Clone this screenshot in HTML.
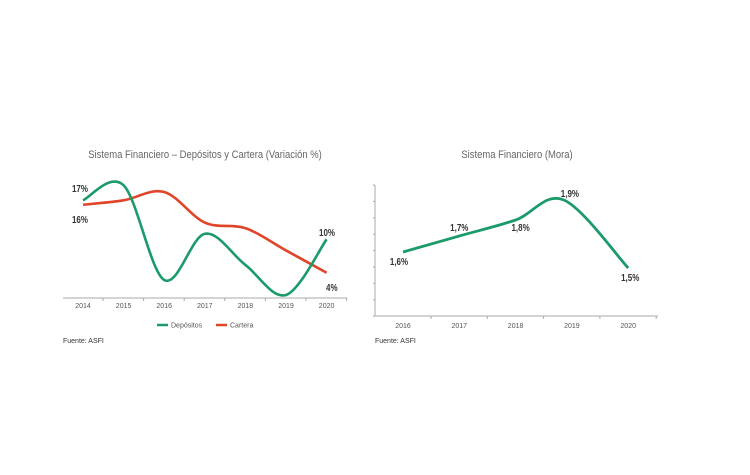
<!DOCTYPE html>
<html><head><meta charset="utf-8"><style>
body{margin:0;background:#fff;width:750px;height:475px;overflow:hidden;font-family:"Liberation Sans",sans-serif}
svg{display:block}
.t{font-size:11px;fill:#666}
.ax{font-size:7px;fill:#555}
.lb{font-size:10px;fill:#333;font-weight:bold}
.src{font-size:7px;fill:#333}
</style></head><body>
<svg id="c" width="750" height="475" viewBox="0 0 750 475"></svg>
<script>
const years1=["2014","2015","2016","2017","2018","2019","2020"];
const depositos=[17,19.7,2.7,11,5.4,0,10];
const cartera=[16.2,17,18.5,13,12,8,4];
const years2=["2016","2017","2018","2019","2020"];
const mora=[1.6,1.7,1.8,1.9,1.5];
const NS="http://www.w3.org/2000/svg";
const svg=document.getElementById('c');
function mk(tag,attrs,parent,name,text){const e=document.createElementNS(NS,tag);for(const k in attrs)e.setAttribute(k,attrs[k]);


if(text!==undefined)e.textContent=text;(parent||svg).appendChild(e);return e;}
function spline(pts){let d="M"+pts[0][0]+","+pts[0][1];for(let i=0;i<pts.length-1;i++){const p0=pts[i-1]||pts[i],p1=pts[i],p2=pts[i+1],p3=pts[i+2]||p2;
const c1=[p1[0]+(p2[0]-p0[0])/6,p1[1]+(p2[1]-p0[1])/6],c2=[p2[0]-(p3[0]-p1[0])/6,p2[1]-(p3[1]-p1[1])/6];
d+=" C"+c1[0]+","+c1[1]+" "+c2[0]+","+c2[1]+" "+p2[0]+","+p2[1];}return d;}
// Chart 1
const x1=i=>83+i*40.6, y1=v=>295-v*5.57;
mk('text',{x:205,y:158,'text-anchor':'middle',class:'t',transform:'translate(205,0) scale(0.86,1) translate(-205,0)'},svg,'chart1-title','Sistema Financiero – Depósitos y Cartera (Variación %)');
mk('line',{x1:63,y1:298,x2:347,y2:298,stroke:'#aaa','stroke-width':1},svg,'chart1-x-axis');
years1.forEach((y,i)=>{mk('text',{x:x1(i),y:308,'text-anchor':'middle',class:'ax'},svg,'chart1-x-tick-label',y);
mk('line',{x1:x1(i)+20,y1:298,x2:x1(i)+20,y2:301,stroke:'#aaa'},svg,'chart1-x-tick');});
mk('path',{d:spline(cartera.map((v,i)=>[x1(i),y1(v)])),fill:'none',stroke:'#e0452a','stroke-width':2.6},svg,'cartera-line');
mk('path',{d:spline(depositos.map((v,i)=>[x1(i),y1(v)])),fill:'none',stroke:'#1b9a6a','stroke-width':2.6},svg,'depositos-line');
mk('text',{x:72,y:192,class:'lb'},svg,'label-depositos-2014','17%');
mk('text',{x:72,y:223,class:'lb'},svg,'label-cartera-2014','16%');
mk('text',{x:319,y:236,class:'lb'},svg,'label-depositos-2020','10%');
mk('text',{x:326,y:291,class:'lb'},svg,'label-cartera-2020','4%');
mk('line',{x1:157,y1:325,x2:168,y2:325,stroke:'#1b9a6a','stroke-width':2.5},svg,'legend-depositos-swatch');
mk('text',{x:171,y:327.5,class:'ax'},svg,'legend-depositos','Depósitos');
mk('line',{x1:216,y1:325,x2:227,y2:325,stroke:'#e0452a','stroke-width':2.5},svg,'legend-cartera-swatch');
mk('text',{x:230,y:327.5,class:'ax'},svg,'legend-cartera','Cartera');
mk('text',{x:63,y:343,class:'src'},svg,'chart1-source','Fuente: ASFI');
// Chart 2
const x2=i=>403+i*56.3, y2=v=>252-(v-1.6)*160;
mk('text',{x:517,y:158,'text-anchor':'middle',class:'t',transform:'translate(517,0) scale(0.86,1) translate(-517,0)'},svg,'chart2-title','Sistema Financiero (Mora)');
mk('line',{x1:375,y1:185,x2:375,y2:316,stroke:'#aaa'},svg,'chart2-y-axis');
for(let k=0;k<9;k++)mk('line',{x1:373,y1:185+k*16.4,x2:375,y2:185+k*16.4,stroke:'#aaa'},svg,'chart2-y-tick');
mk('line',{x1:375,y1:316,x2:658,y2:316,stroke:'#aaa'},svg,'chart2-x-axis');
years2.forEach((y,i)=>{mk('text',{x:x2(i),y:328,'text-anchor':'middle',class:'ax'},svg,'chart2-x-tick-label',y);
mk('line',{x1:x2(i)+28,y1:316,x2:x2(i)+28,y2:319,stroke:'#aaa'},svg,'chart2-x-tick');});
mk('path',{d:spline(mora.map((v,i)=>[i==3?x2(i)-8:x2(i),i==3?y2(v)-4:y2(v)])),fill:'none',stroke:'#1b9a6a','stroke-width':2.8},svg,'mora-line');
const ml=["1,6%","1,7%","1,8%","1,9%","1,5%"],mo=[[-4,13],[0,-5],[5,11],[-2,-7],[2,13]];
mora.forEach((v,i)=>mk('text',{x:x2(i)+mo[i][0],y:y2(v)+mo[i][1],'text-anchor':'middle',class:'lb',transform:`translate(${x2(i)+mo[i][0]},0) scale(0.8,1) translate(${-(x2(i)+mo[i][0])},0)`},svg,'mora-label',ml[i]));
mk('text',{x:375,y:343,class:'src'},svg,'chart2-source','Fuente: ASFI');
document.querySelectorAll('.lb').forEach(e=>{if(!e.getAttribute('transform')){const x=+e.getAttribute('x');e.setAttribute('transform',`translate(${x},0) scale(0.8,1) translate(${-x},0)`);}});
</script>
</body></html>
